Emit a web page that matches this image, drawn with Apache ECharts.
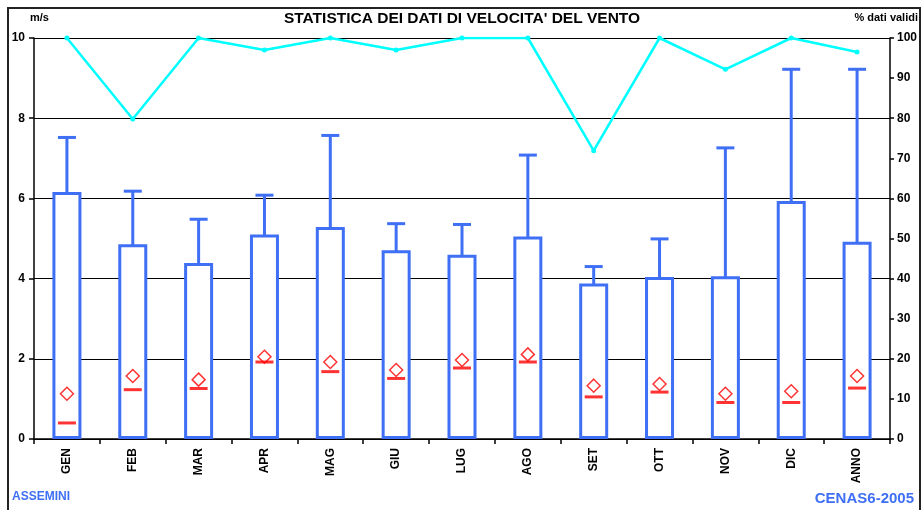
<!doctype html>
<html>
<head>
<meta charset="utf-8">
<title>velocita vento</title>
<script src="https://cdn.jsdelivr.net/npm/echarts@6/dist/echarts.min.js"></script>
<style>
html,body{margin:0;padding:0;background:#fff;}
#div_charts{width:924px;height:510px;}
</style>
</head>
<body>
<div id="div_charts"></div>
<script>
// dati
var mesi = ['GEN','FEB','MAR','APR','MAG','GIU','LUG','AGO','SET','OTT','NOV','DIC','ANNO'];
var boxTop = [6.12, 4.82, 4.35, 5.06, 5.25, 4.67, 4.56, 5.01, 3.84, 4.00, 4.02, 5.90, 4.88];
var whiskerTop = [7.52, 6.18, 5.48, 6.08, 7.57, 5.37, 5.35, 7.08, 4.30, 4.99, 7.26, 9.22, 9.22];
var mediane = [0.40, 1.23, 1.26, 1.92, 1.68, 1.51, 1.77, 1.92, 1.05, 1.17, 0.91, 0.91, 1.27];
var medie = [1.13, 1.57, 1.48, 2.05, 1.92, 1.72, 1.97, 2.11, 1.33, 1.37, 1.13, 1.19, 1.57];
var datiValidi = [100, 79.8, 100, 97, 100, 97, 100, 100, 71.9, 100, 92.2, 100, 96.5];
var tickSx = [0, 2, 4, 6, 8, 10];
var tickDx = [0, 10, 20, 30, 40, 50, 60, 70, 80, 90, 100];

var BLU = '#3f6ff5';
var FONT = 'Liberation Sans';

var boxData = [];
for (var i = 0; i < mesi.length; i++) {
    boxData.push([i, boxTop[i], whiskerTop[i]]);
}

var myChart = echarts.init(document.getElementById('div_charts'));

function disegnaBox(params, api) {
    var x = api.value(0);
    var p0 = api.coord([x, 0]);
    var p1 = api.coord([x, api.value(1)]);
    var p2 = api.coord([x, api.value(2)]);
    var bw = 26, cw = 18;
    return {
        type: 'group',
        children: [
            {type: 'line', shape: {x1: p1[0], y1: p1[1], x2: p2[0], y2: p2[1]}, style: {stroke: BLU, lineWidth: 3}},
            {type: 'line', shape: {x1: p2[0] - cw / 2, y1: p2[1], x2: p2[0] + cw / 2, y2: p2[1]}, style: {stroke: BLU, lineWidth: 3}},
            {type: 'rect', shape: {x: p0[0] - bw / 2, y: p1[1], width: bw, height: p0[1] - p1[1] - 1.5}, style: {fill: '#fff', stroke: BLU, lineWidth: 3}}
        ]
    };
}

var option = {
    animation: false,
    textStyle: {fontFamily: FONT},
    grid: {left: 34, right: 34, top: 38, bottom: 71},
    graphic: [
        {type: 'rect', shape: {x: 8, y: 8, width: 912, height: 520}, style: {fill: 'none', stroke: '#222', lineWidth: 2}, silent: true},
        {type: 'text', left: 30, top: 12, style: {text: 'm/s', font: 'bold 11px "Liberation Sans"', fill: '#000'}},
        {type: 'text', right: 6, top: 12, style: {text: '% dati validi', font: 'bold 11px "Liberation Sans"', fill: '#000'}},
        {type: 'text', left: 'center', top: 11, style: {text: "STATISTICA DEI DATI DI VELOCITA' DEL VENTO", font: 'bold 15.5px "Liberation Sans"', fill: '#000'}},
        {type: 'text', left: 12, top: 491, style: {text: 'ASSEMINI', font: 'bold 12px "Liberation Sans"', fill: BLU}},
        {type: 'text', right: 10, top: 491, style: {text: 'CENAS6-2005', font: 'bold 15px "Liberation Sans"', fill: BLU}}
    ],
    xAxis: {
        type: 'category',
        data: mesi,
        boundaryGap: true,
        axisLine: {lineStyle: {color: '#000', width: 1.5}},
        axisTick: {show: true, interval: 0, length: 5, lineStyle: {color: '#000', width: 1.5}},
        axisLabel: {interval: 0, rotate: 90, margin: 9, color: '#000', fontWeight: 'bold', fontSize: 12, fontFamily: FONT}
    },
    yAxis: [{
        type: 'value',
        min: tickSx[0], max: tickSx[tickSx.length - 1], interval: 2,
        axisLine: {show: true, lineStyle: {color: '#000', width: 1.5}},
        axisTick: {show: true, length: 5, lineStyle: {color: '#000', width: 1.5}},
        axisLabel: {margin: 9, color: '#000', fontWeight: 'bold', fontSize: 12, fontFamily: FONT},
        splitLine: {show: true, lineStyle: {color: '#000', width: 1}}
    }, {
        type: 'value',
        min: tickDx[0], max: tickDx[tickDx.length - 1], interval: 10,
        axisLine: {show: true, lineStyle: {color: '#000', width: 1.5}},
        axisTick: {show: true, length: 4, lineStyle: {color: '#000', width: 1.5}},
        axisLabel: {margin: 7, color: '#000', fontWeight: 'bold', fontSize: 12, fontFamily: FONT},
        splitLine: {show: false}
    }],
    series: [{
        name: 'box',
        type: 'custom',
        renderItem: disegnaBox,
        data: boxData,
        z: 2
    }, {
        name: 'mediana',
        type: 'scatter',
        data: mediane,
        symbol: 'rect',
        symbolSize: [18, 3],
        itemStyle: {color: '#ff0000'},
        z: 3
    }, {
        name: 'media',
        type: 'scatter',
        data: medie,
        symbol: 'diamond',
        symbolSize: [13, 13],
        itemStyle: {color: 'rgba(255,255,255,0)', borderColor: '#ff0000', borderWidth: 1.5},
        z: 3
    }, {
        name: '% dati validi',
        type: 'line',
        yAxisIndex: 1,
        data: datiValidi,
        symbol: 'circle',
        symbolSize: 5,
        lineStyle: {color: '#00ffff', width: 2.5},
        itemStyle: {color: '#00ffff'},
        z: 4
    }]
};

myChart.setOption(option);
</script>
</body>
</html>
